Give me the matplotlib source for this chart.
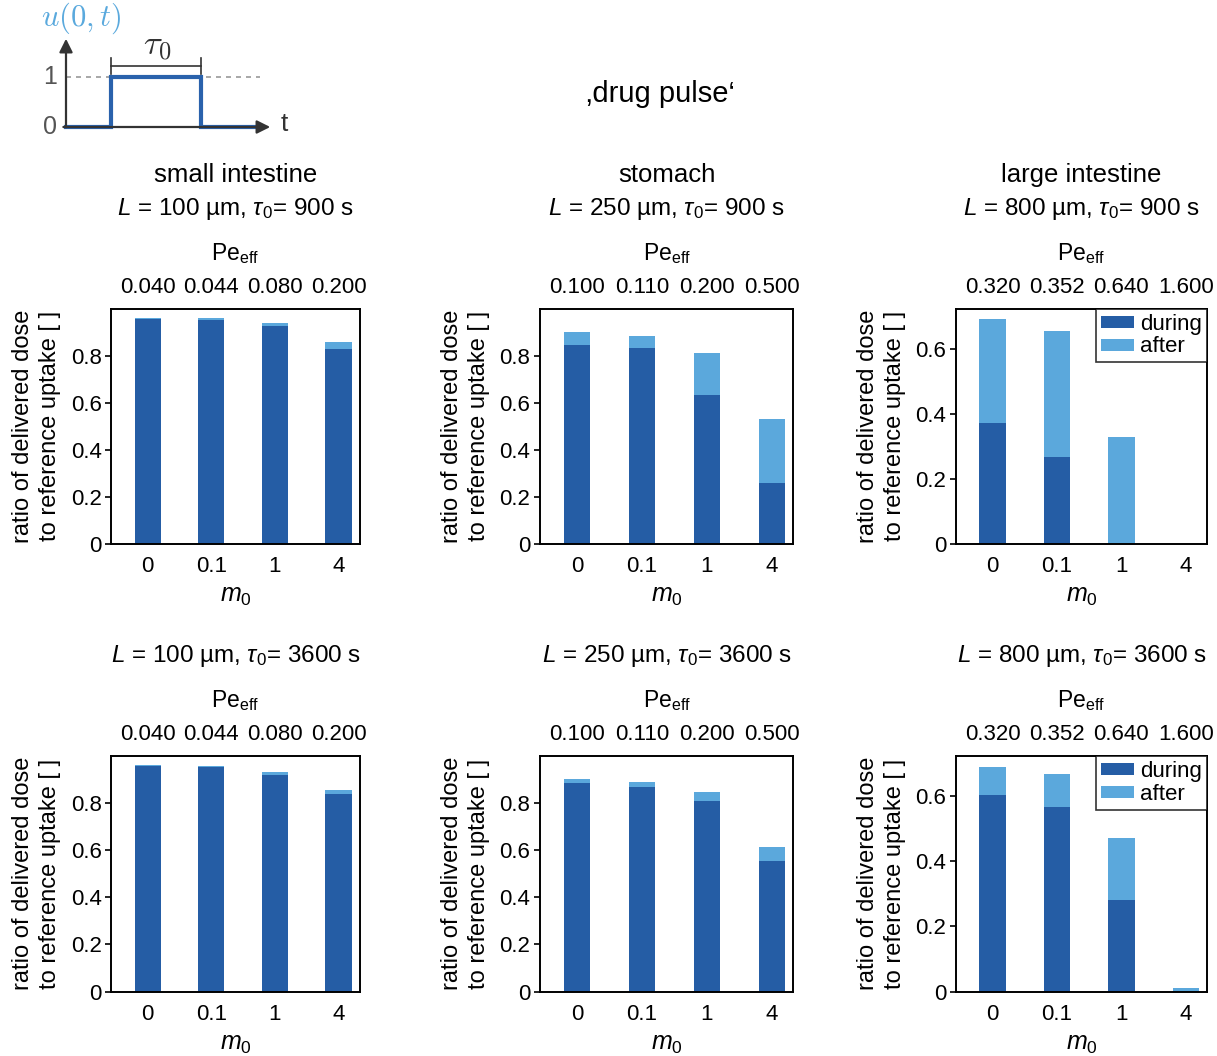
import matplotlib
matplotlib.use("Agg")
import matplotlib.pyplot as plt
import numpy as np

plt.rcParams['font.family'] = ['Liberation Sans', 'DejaVu Sans']
plt.rcParams['mathtext.fontset'] = 'custom'
plt.rcParams['mathtext.rm'] = 'Liberation Sans'
plt.rcParams['mathtext.it'] = 'Liberation Sans:italic'
plt.rcParams['mathtext.bf'] = 'Liberation Sans:bold'

# ---------------- data ----------------
m0_labels = ['0', '0.1', '1', '4']
pe_small = ['0.040', '0.044', '0.080', '0.200']
pe_stomach = ['0.100', '0.110', '0.200', '0.500']
pe_large = ['0.320', '0.352', '0.640', '1.600']

organs = ['small intestine', 'stomach', 'large intestine']
lengths = ['100', '250', '800']
taus = ['900', '3600']

# delivered dose ratio during / after pulse
during_small_900 = [0.955, 0.953, 0.925, 0.830]
after_small_900 = [0.007, 0.007, 0.014, 0.030]
during_stomach_900 = [0.847, 0.833, 0.633, 0.261]
after_stomach_900 = [0.053, 0.050, 0.179, 0.269]
during_large_900 = [0.372, 0.266, 0.0, 0.0]
after_large_900 = [0.320, 0.390, 0.329, 0.0]

during_small_3600 = [0.956, 0.953, 0.918, 0.837]
after_small_3600 = [0.004, 0.006, 0.014, 0.020]
during_stomach_3600 = [0.887, 0.868, 0.807, 0.554]
after_stomach_3600 = [0.017, 0.020, 0.039, 0.061]
during_large_3600 = [0.602, 0.566, 0.281, 0.0]
after_large_3600 = [0.088, 0.103, 0.189, 0.012]

# inset pulse u(0,t)
pulse_t = [0, 1, 1, 3, 3, 4.35]
pulse_u = [0, 0, 1, 1, 0, 0]

DARK = '#255da5'
LIGHT = '#5ba8dc'

W, H = 1217, 1056
fig = plt.figure(figsize=(W / 100, H / 100), dpi=100)


def px_axes(left, right, top, bottom):
    return fig.add_axes([left / W, 1 - bottom / H, (right - left) / W, (bottom - top) / H])


col_x = [(111.5, 359.5), (540, 793.3), (956, 1207)]
row_y = [(308.8, 544.0), (756.0, 991.5)]

during_all = [[during_small_900, during_stomach_900, during_large_900],
              [during_small_3600, during_stomach_3600, during_large_3600]]
after_all = [[after_small_900, after_stomach_900, after_large_900],
             [after_small_3600, after_stomach_3600, after_large_3600]]
pe_all = [pe_small, pe_stomach, pe_large]
ylims = [1.0, 1.0, 0.723]
yt_sets = [[0, 0.2, 0.4, 0.6, 0.8], [0, 0.2, 0.4, 0.6, 0.8], [0, 0.2, 0.4, 0.6]]

TFS = 16      # tick labels
pos = np.arange(len(m0_labels))

for r in range(2):
    for c in range(3):
        ax = px_axes(col_x[c][0], col_x[c][1], row_y[r][0], row_y[r][1])
        d = during_all[r][c]
        a = after_all[r][c]
        ax.bar(pos, d, width=0.41, color=DARK, label='during')
        ax.bar(pos, a, width=0.41, bottom=d, color=LIGHT, label='after')
        ax.set_xlim(-0.57, 3.33)
        ax.set_ylim(0, ylims[c])
        yt = yt_sets[c]
        ax.set_yticks(yt)
        ax.set_yticklabels([('0' if v == 0 else f'{v:.1f}') for v in yt], fontsize=TFS)
        ax.set_xticks(pos)
        ax.set_xticklabels(m0_labels, fontsize=TFS)
        ax.tick_params(axis='x', length=0, pad=9)
        ax.tick_params(axis='y', direction='out', length=4, width=1.2, pad=3)
        for s in ax.spines.values():
            s.set_linewidth(1.4)
        ax.set_xlabel(r'$m_{\mathit{0}}$', fontsize=18, labelpad=5)
        ax.set_ylabel('ratio of delivered dose\nto reference uptake [ ]', fontsize=17,
                      linespacing=1.28, labelpad=7)
        sec = ax.secondary_xaxis('top')
        sec.set_xticks(pos)
        sec.set_xticklabels(pe_all[c], fontsize=TFS)
        sec.tick_params(length=0, pad=8)
        sec.spines['top'].set_visible(False)
        ax.annotate(r'Pe$_{\mathrm{eff}}$', xy=(0.5, 1), xycoords='axes fraction',
                    xytext=(0, 40), textcoords='offset points', ha='center', va='center',
                    fontsize=16.5)
        ax.annotate(r'$L$ = ' + lengths[c] + r' µm, $\tau_{\mathit{0}}$= ' + taus[r] + ' s',
                    xy=(0.5, 1), xycoords='axes fraction',
                    xytext=(0, 72), textcoords='offset points', ha='center', va='center',
                    fontsize=17.5)
        if r == 0:
            ax.annotate(organs[c], xy=(0.5, 1), xycoords='axes fraction',
                        xytext=(0, 96), textcoords='offset points', ha='center',
                        va='center', fontsize=18.5)
        if c == 2:
            leg = ax.legend(loc='upper right', fontsize=16, frameon=True, fancybox=False,
                            borderaxespad=0, handlelength=1.45, handleheight=0.45,
                            handletextpad=0.3, labelspacing=0.08, borderpad=0.22)
            leg.get_frame().set_edgecolor('black')
            leg.get_frame().set_linewidth(1.2)

# main title
fig.text(660 / W, 1 - 94 / H, '\u201adrug pulse\u2018', ha='center', va='center', fontsize=21)

# inset of pulse
ia = px_axes(30, 310, 0, 145)
x0, x1 = (30 - 66) / 45, (310 - 66) / 45
y0, y1 = (127 - 145) / 50, 127 / 50
ia.set_xlim(x0, x1)
ia.set_ylim(y0, y1)
ia.axis('off')
ia.plot([0, 4.3], [1, 1], ls=(0, (3, 3)), color='#999999', lw=1.2)
ia.annotate('', xy=(4.6, 0), xytext=(-0.12, 0),
            arrowprops=dict(arrowstyle='-|>', color='#333333', lw=1.6, mutation_scale=20))
ia.annotate('', xy=(0, 1.82), xytext=(0, -0.06),
            arrowprops=dict(arrowstyle='-|>', color='#333333', lw=1.6, mutation_scale=20))
ia.plot(pulse_t, pulse_u, color='#2a62ac', lw=3, solid_joinstyle='miter')
ia.plot([1, 3], [1.22, 1.22], color='#333333', lw=1.2)
ia.plot([1, 1], [1.06, 1.38], color='#333333', lw=1.2)
ia.plot([3, 3], [1.06, 1.38], color='#333333', lw=1.2)
ia.text(2.02, 1.62, r'$\tau_0$', math_fontfamily='cm', fontsize=25, ha='center', va='center',
        color='#333333')
ia.text(0.33, 2.18, r'$u(0,t)$', math_fontfamily='cm', fontsize=22, ha='center', va='center',
        color='#5aa9dd')
ia.text(4.85, 0.06, 't', fontsize=19, ha='center', va='center', color='#333333')
ia.text(-0.36, 0.0, '0', fontsize=18, ha='center', va='center', color='#555555')
ia.text(-0.36, 1.0, '1', fontsize=18, ha='center', va='center', color='#555555')

fig.savefig('out.png', dpi=100)
